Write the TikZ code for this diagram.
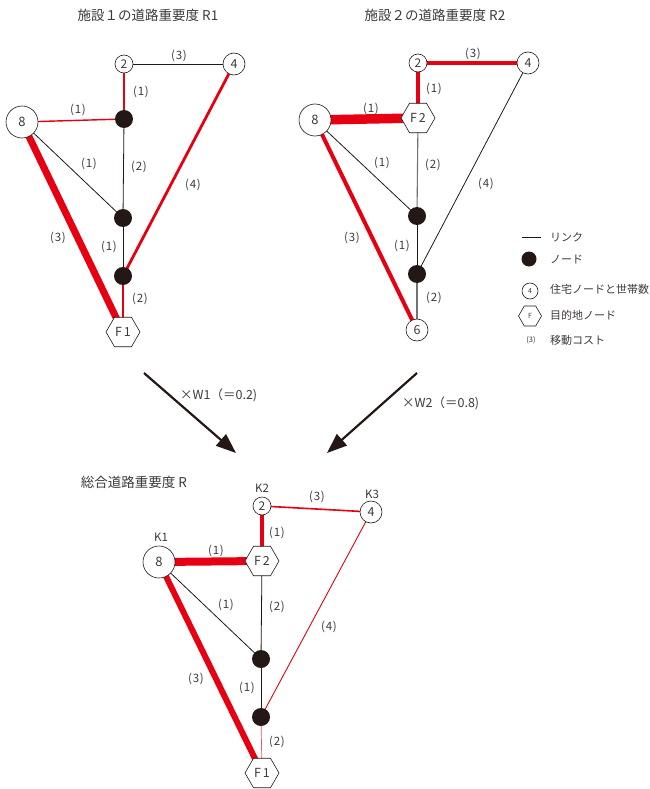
\documentclass[tikz,border=0pt]{standalone}
\usepackage{fontspec}
\setmainfont{Noto Sans CJK JP}
\usetikzlibrary{shapes.geometric,arrows.meta,backgrounds}
\definecolor{rd}{HTML}{E60012}
\definecolor{ink}{HTML}{231815}
\definecolor{txt}{HTML}{3E3A39}
\newcommand{\cst}[1]{(\kern0.8pt#1\kern0.8pt)}
\begin{document}
\begin{tikzpicture}[x=1pt,y=-1pt,
 house/.style={circle,draw=ink,line width=0.6pt,fill=white,inner sep=0pt,text=txt},
 hsmall/.style={house,minimum size=18pt,font=\fontsize{12}{12}\selectfont},
 hmid/.style={house,minimum size=22pt,font=\fontsize{12.5}{12.5}\selectfont},
 hbig/.style={house,minimum size=32pt,font=\fontsize{13}{13}\selectfont},
 dotn/.style={circle,fill=ink,inner sep=0pt,minimum size=18pt},
 hexn/.style={regular polygon,regular polygon sides=6,draw=ink,line width=0.6pt,fill=white,inner sep=0pt,minimum size=34pt,text=txt,font=\fontsize{12.5}{12.5}\selectfont},
 lbl/.style={text=txt,font=\fontsize{11.5}{11.5}\selectfont,inner sep=0pt},
 lgt/.style={text=txt,font=\fontsize{11}{11}\selectfont,inner sep=0pt,anchor=west},
 ttl/.style={text=txt,font=\fontsize{13.5}{13.5}\selectfont,inner sep=0pt},
 blk/.style={draw=ink,line width=0.8pt},
 gry/.style={draw=black!55,line width=#1},
 rl/.style={draw=rd,line width=#1},
 bigarrow/.style={draw=ink,line width=2.2pt,-{Triangle[length=20pt,width=15pt]}},
]
\useasboundingbox (0,0) rectangle (649,789);

% ---------- titles ----------
\node[ttl] (t1) at (148,15) {施設１の道路重要度 R1};
\node[ttl] (t2) at (435,15) {施設２の道路重要度 R2};
\node[ttl] (t3) at (134,482) {総合道路重要度 R};

% ---------- diagram 1 ----------
\node[hsmall] (d1n2) at (124,64) {2};
\node[hmid] (d1n4) at (234,64) {4};
\node[hbig] (d1n8) at (22,122) {8};
\node[dotn] (d1a) at (124,119) {};
\node[dotn] (d1b) at (123,218) {};
\node[dotn] (d1c) at (123,276) {};
\node[hexn] (d1f) at (123,332) {F\hspace{2pt}1};

\node[lbl] (d1l1) at (179,56) {\cst{3}};
\node[lbl] (d1l2) at (141,92) {\cst{1}};
\node[lbl] (d1l3) at (78,110) {\cst{1}};
\node[lbl] (d1l4) at (89,164) {\cst{1}};
\node[lbl] (d1l5) at (139,167) {\cst{2}};
\node[lbl] (d1l6) at (193,185) {\cst{4}};
\node[lbl] (d1l7) at (58,238) {\cst{3}};
\node[lbl] (d1l8) at (109,247) {\cst{1}};
\node[lbl] (d1l9) at (140,299) {\cst{2}};

% ---------- diagram 2 ----------
\node[hsmall] (d2n2) at (418,63) {2};
\node[hmid] (d2n4) at (528,63) {4};
\node[hbig] (d2n8) at (315,120) {8};
\node[hexn] (d2f) at (418,118) {F\hspace{2pt}2};
\node[dotn] (d2b) at (417,216) {};
\node[dotn] (d2c) at (417,274) {};
\node[hmid] (d2n6) at (417,330) {6};

\node[lbl] (d2l1) at (473,54) {\cst{3}};
\node[lbl] (d2l2) at (434,89) {\cst{1}};
\node[lbl] (d2l3) at (371,109) {\cst{1}};
\node[lbl] (d2l4) at (382,163) {\cst{1}};
\node[lbl] (d2l5) at (433,165) {\cst{2}};
\node[lbl] (d2l6) at (486,184) {\cst{4}};
\node[lbl] (d2l7) at (352,238) {\cst{3}};
\node[lbl] (d2l8) at (402,246) {\cst{1}};
\node[lbl] (d2l9) at (434,298) {\cst{2}};

% ---------- legend ----------
\coordinate (lgA) at (522,237);
\coordinate (lgB) at (541,237);
\node[dotn,minimum size=15pt] (lgdot) at (529,259) {};
\node[house,minimum size=16pt,font=\fontsize{7}{7}\selectfont] (lghouse) at (530,291) {4};
\node[hexn,minimum size=23pt,font=\fontsize{7}{7}\selectfont] (lghex) at (530,316) {F};
\node[lbl,font=\fontsize{7.5}{7.5}\selectfont] (lgcost) at (531,340) {(3)};
\node[lgt] (lgt1) at (550,237) {リンク};
\node[lgt] (lgt2) at (550,259) {ノード};
\node[lgt] (lgt3) at (550,289) {住宅ノードと世帯数};
\node[lgt] (lgt4) at (550,315) {目的地ノード};
\node[lgt] (lgt5) at (550,340) {移動コスト};

% ---------- arrows ----------
\coordinate (ar1s) at (144,373);
\coordinate (ar1e) at (236,453);
\coordinate (ar2s) at (417,373);
\coordinate (ar2e) at (327,453);
\node[lbl,anchor=west,font=\fontsize{12.5}{12.5}\selectfont] (w1) at (180,395) {×W1（＝0.2)};
\node[lbl,anchor=west,font=\fontsize{12.5}{12.5}\selectfont] (w2) at (402,403) {×W2（＝0.8)};

% ---------- diagram 3 ----------
\node[hsmall] (d3n2) at (262,506) {2};
\node[hmid] (d3n4) at (371,512) {4};
\node[hbig] (d3n8) at (159,562) {8};
\node[hexn] (d3f2) at (262,561) {F\hspace{2pt}2};
\node[dotn] (d3b) at (261,659) {};
\node[dotn] (d3c) at (261,717) {};
\node[hexn] (d3f1) at (262,773) {F\hspace{2pt}1};

\node[lbl] (k2) at (262,488) {K2};
\node[lbl] (k3) at (372,494) {K3};
\node[lbl] (k1) at (161,537) {K1};
\node[lbl] (d3l1) at (317,497) {\cst{3}};
\node[lbl] (d3l2) at (277,533) {\cst{1}};
\node[lbl] (d3l3) at (216,551) {\cst{1}};
\node[lbl] (d3l4) at (226,605) {\cst{1}};
\node[lbl] (d3l5) at (277,607) {\cst{2}};
\node[lbl] (d3l6) at (329,627) {\cst{4}};
\node[lbl] (d3l7) at (196,679) {\cst{3}};
\node[lbl] (d3l8) at (247,688) {\cst{1}};
\node[lbl] (d3l9) at (277,742) {\cst{2}};

% ---------- connectors (behind nodes) ----------
\begin{scope}[on background layer]
\fill[white] (0,0) rectangle (649,789);
% diagram 1
\draw[blk] (d1n2.center) -- (d1n4.center);
\draw[rl=1.8pt] (d1n2.center) -- (d1a.center);
\draw[rl=1.4pt] (d1n8.center) -- (d1a.center);
\draw[blk] (d1n8.center) -- (d1b.center);
\draw[blk] (d1a.center) -- (d1b.center);
\draw[blk] (d1b.center) -- (d1c.center);
\draw[rl=2.6pt] (d1c.center) -- (d1f.center);
\draw[rl=2.8pt] (d1n4.center) -- (d1c.center);
\draw[rl=7pt] (d1n8.center) -- (d1f.center);
% diagram 2
\draw[rl=3.2pt] (d2n2.center) -- (d2n4.center);
\draw[rl=3.2pt] (d2n2.center) -- (d2f.center);
\draw[rl=9.5pt] (d2n8.center) -- (d2f.center);
\draw[blk] (d2n8.center) -- (d2b.center);
\draw[gry=1.1pt] (d2f.center) -- (d2b.center);
\draw[blk] (d2b.center) -- (d2c.center);
\draw[blk] (d2n4.center) -- (d2c.center);
\draw[gry=2.2pt] (d2c.center) -- (d2n6.center);
\draw[rl=4pt] (d2n8.center) -- (d2n6.center);
% legend
\draw[blk] (lgA) -- (lgB);
% arrows
\draw[bigarrow] (ar1s) -- (ar1e);
\draw[bigarrow] (ar2s) -- (ar2e);
% diagram 3
\draw[rl=1.6pt] (d3n2.center) -- (d3n4.center);
\draw[rl=3.2pt] (d3n2.center) -- (d3f2.center);
\draw[rl=8pt] (d3n8.center) -- (d3f2.center);
\draw[blk] (d3n8.center) -- (d3b.center);
\draw[blk] (d3f2.center) -- (d3b.center);
\draw[blk] (d3b.center) -- (d3c.center);
\draw[rl=0.9pt] (d3n4.center) -- (d3c.center);
\draw[draw=rd!65,line width=0.7pt] (d3c.center) -- (d3f1.center);
\draw[rl=6pt] (d3n8.center) -- (d3f1.center);
\end{scope}
\end{tikzpicture}
\end{document}
